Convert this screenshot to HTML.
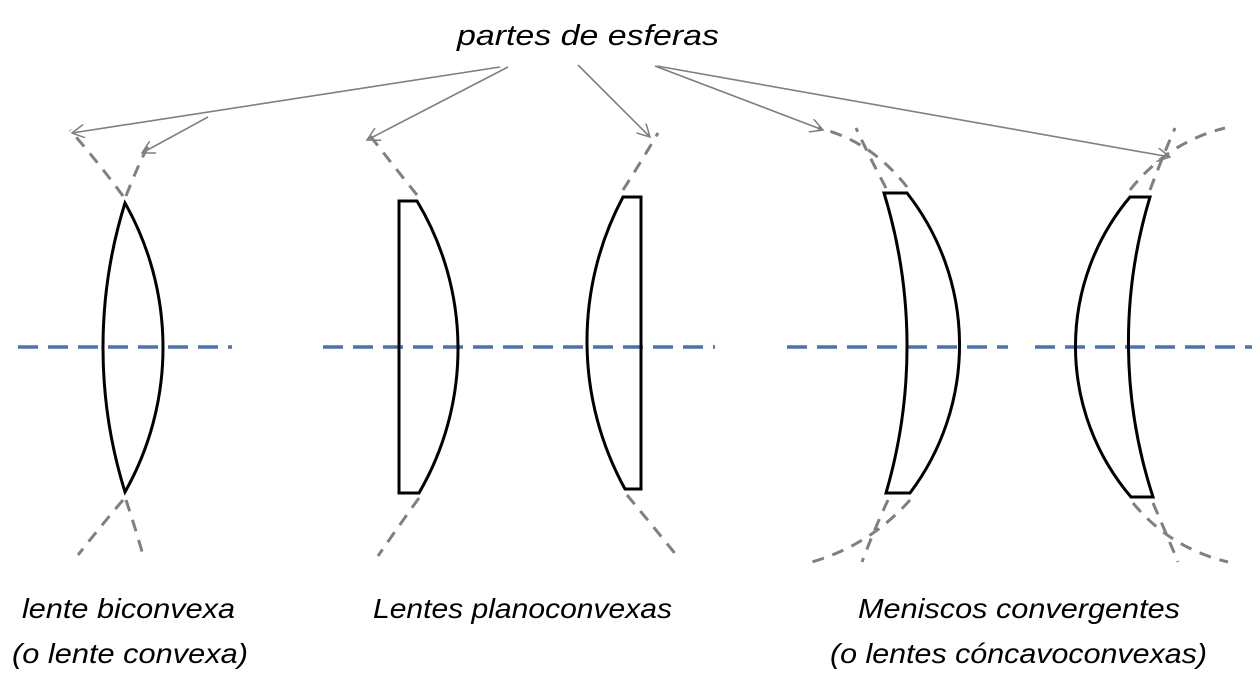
<!DOCTYPE html>
<html><head><meta charset="utf-8"><style>
html,body{margin:0;padding:0;background:#fff;}
svg{display:block;}
text{font-family:"Liberation Sans",sans-serif;font-style:italic;fill:#000;}
</style></head><body>
<svg width="1260" height="682" viewBox="0 0 1260 682" xmlns="http://www.w3.org/2000/svg">
<defs>
<marker id="ar" viewBox="0 0 12 12" refX="11" refY="6" markerWidth="14" markerHeight="14" markerUnits="userSpaceOnUse" orient="auto">
<path d="M0,0 L11,6 L0,12" fill="none" stroke="#7f7f7f" stroke-width="1.3"/>
</marker>
</defs>
<text x="588" y="45" font-size="29" text-anchor="middle" textLength="262" lengthAdjust="spacingAndGlyphs">partes de esferas</text>

<g stroke="#7f7f7f" stroke-width="1.6" fill="none">
<line x1="500" y1="67" x2="72" y2="133" marker-end="url(#ar)"/>
<line x1="208" y1="117" x2="142" y2="153" marker-end="url(#ar)"/>
<line x1="508" y1="67" x2="367" y2="140" marker-end="url(#ar)"/>
<line x1="578" y1="65" x2="650" y2="137" marker-end="url(#ar)"/>
<line x1="655" y1="66" x2="823" y2="130" marker-end="url(#ar)"/>
<line x1="657" y1="66" x2="1170" y2="157" marker-end="url(#ar)"/>
</g>

<g stroke="#4a70b5" stroke-width="3.5" stroke-dasharray="20 10">
<line x1="18" y1="347" x2="232" y2="347"/>
<line x1="323" y1="347" x2="715" y2="347"/>
<line x1="787" y1="347" x2="1008" y2="347"/>
<line x1="1035" y1="347" x2="1252" y2="347"/>
</g>

<g stroke="#808080" stroke-width="3" stroke-dasharray="12 9" fill="none">
<path d="M123,196 Q98,162 70,130"/>
<path d="M126,196 Q136,170 148,146"/>
<path d="M123,500 Q100,527 78,555"/>
<path d="M126,500 Q135,527 143,555"/>
<path d="M417,195 Q392,164 368,133"/>
<path d="M419,498 Q398,527 378,556"/>
<path d="M623,190 Q641,162 658,133"/>
<path d="M627,495 Q652,525 677,556"/>
<path d="M907,187 Q870,140 818,128"/>
<path d="M886,188 Q870,158 856,128"/>
<path d="M910,500 Q870,545 812,562"/>
<path d="M888,500 Q874,530 862,562"/>
<path d="M1130,190 Q1168,142 1225,128"/>
<path d="M1150,190 Q1162,158 1175,128"/>
<path d="M1133,503 Q1170,548 1228,562"/>
<path d="M1153,503 Q1166,533 1178,562"/>
</g>

<g stroke="#000" stroke-width="3" fill="none" stroke-linejoin="miter">
<path d="M125,203 A293.7,293.7 0 0 1 125,492 A485.5,485.5 0 0 1 125,203 Z"/>
<path d="M399,201 L417,201 A286.5,286.5 0 0 1 419,493 L399,493 Z"/>
<path d="M641,197 L623,197 A306.6,306.6 0 0 0 625,489 L641,489 Z"/>
<path d="M884,193 L907,193 A246,246 0 0 1 910,493 L886,493 A522,522 0 0 0 884,193 Z"/>
<path d="M1150,197 L1130,197 A232,232 0 0 0 1131,497 L1153,497 A500,500 0 0 1 1150,197 Z"/>
</g>

<text x="22" y="618" font-size="28" textLength="213" lengthAdjust="spacingAndGlyphs">lente biconvexa</text>
<text x="12" y="663" font-size="28" textLength="236" lengthAdjust="spacingAndGlyphs">(o lente convexa)</text>
<text x="373" y="618" font-size="28" textLength="299" lengthAdjust="spacingAndGlyphs">Lentes planoconvexas</text>
<text x="858" y="618" font-size="28" textLength="322" lengthAdjust="spacingAndGlyphs">Meniscos convergentes</text>
<text x="830" y="663" font-size="28" textLength="377" lengthAdjust="spacingAndGlyphs">(o lentes cóncavoconvexas)</text>
</svg>
</body></html>
